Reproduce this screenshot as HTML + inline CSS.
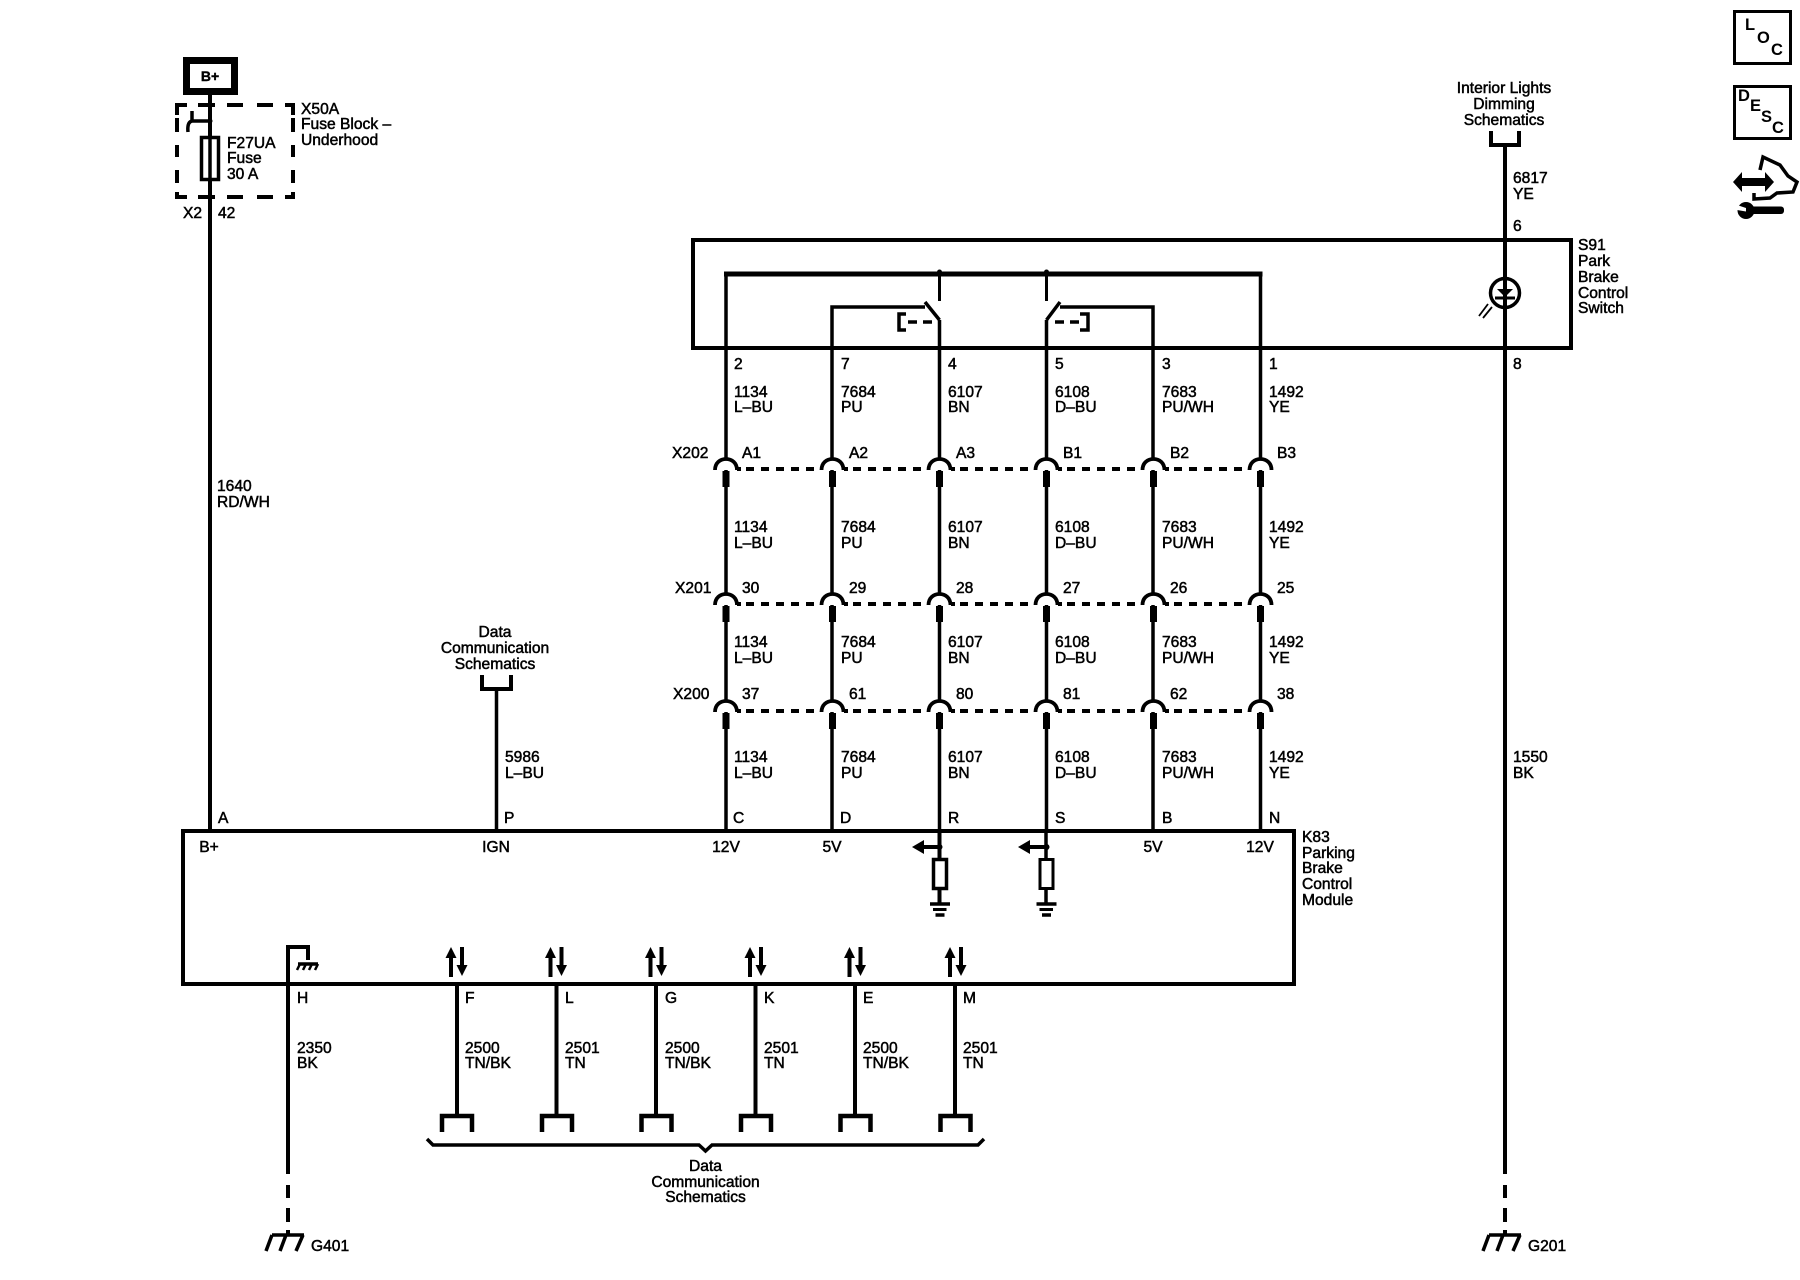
<!DOCTYPE html>
<html><head><meta charset="utf-8"><style>
html,body{margin:0;padding:0;background:#fff}
svg{display:block}
text{font-family:"Liberation Sans",sans-serif;font-size:15.6px;fill:#000;stroke:#000;stroke-width:.5}
.m{text-anchor:middle}
.w{fill:none;stroke:#000;stroke-width:4}
.b{font-weight:bold;stroke-width:0}
</style></head><body>
<svg width="1800" height="1280" viewBox="0 0 1800 1280" xmlns="http://www.w3.org/2000/svg">
<defs>
<g id="c"><rect x="-9" y="-10" width="18" height="10" fill="#fff"/><path d="M-11 0C-11-7-6-11 0-11S11-7 11 0" fill="none" stroke="#000" stroke-width="3.800"/><rect x="-3.500" y="1" width="7" height="16" fill="#000"/></g>
<g id="ud"><path d="M-5.500 30V8M5.500 0V20" fill="none" stroke="#000" stroke-width="4"/><path d="M-5.500 0L-11 11H0ZM5.500 29L0 18H11Z" fill="#000"/></g>
<g id="br"><path d="M-15 16V0H15V16" fill="none" stroke="#000" stroke-width="4.500"/></g>
<g id="gnd"><path d="M-10 0H10" stroke="#000" stroke-width="3.500"/><path d="M-7 5.500H6.500" stroke="#000" stroke-width="3"/><path d="M-4.500 11H4.500" stroke="#000" stroke-width="3.500"/></g>
<g id="eg"><path d="M-16 0H16M-16 0L-22 16M-2 0L-8 16M15 0L8 16" fill="none" stroke="#000" stroke-width="3.500"/></g>
</defs>

<!-- B+ and fuse -->
<rect x="186.500" y="60.500" width="48" height="31" fill="none" stroke="#000" stroke-width="7"/>
<text x="210" y="81" class="m b" style="font-size:14px;stroke-width:.4">B+</text>
<path class="w" d="M210 95V831"/>
<path class="w" d="M177 115V105H187M198 105H215M227 105H243M257 105H273M285 105H293V115M177 118V132M293 118V132M177 145V157M293 145V157M177 170V183M293 170V183M177 192V197H187M198 197H215M227 197H243M257 197H273M285 197H293V192"/>
<path d="M210 121H192V111M192 121Q187 122 188 132" fill="none" stroke="#000" stroke-width="3.500"/>
<circle cx="210" cy="121" r="2.500"/>
<rect x="201.500" y="137.500" width="17" height="42" fill="#fff" stroke="#000" stroke-width="3.500"/>
<path d="M210 137V180" stroke="#000" stroke-width="3.500"/>
<text x="301" y="114">X50A</text><text x="301" y="129">Fuse Block –</text><text x="301" y="145">Underhood</text>
<text x="227" y="148">F27UA</text><text x="227" y="163">Fuse</text><text x="227" y="179">30 A</text>
<text x="183" y="218">X2</text><text x="218" y="218">42</text>
<text x="217" y="491">1640</text><text x="217" y="507">RD/WH</text>

<!-- Top right icons -->
<rect x="1734.500" y="11.500" width="56" height="52" fill="none" stroke="#000" stroke-width="3"/>
<text x="1745" y="30" class="b" style="font-size:16.500px">L</text><text x="1757" y="43" class="b" style="font-size:16.500px">O</text><text x="1771" y="55" class="b" style="font-size:16.500px">C</text>
<rect x="1734.500" y="86.500" width="56" height="52" fill="none" stroke="#000" stroke-width="3"/>
<text x="1738" y="101" class="b" style="font-size:16.500px">D</text><text x="1750" y="111" class="b" style="font-size:16.500px">E</text><text x="1761" y="122" class="b" style="font-size:16.500px">S</text><text x="1772" y="133" class="b" style="font-size:16.500px">C</text>
<path d="M1760 170L1763 157L1780 165L1788 176L1797 182L1793 192L1777 193L1770 198L1754 199V193" fill="none" stroke="#000" stroke-width="3.500"/>
<path d="M1733 182L1742 172V178H1765V172L1774 182L1765 192V186H1742V192Z" fill="#000"/>
<rect x="1750" y="206.500" width="34" height="7.500" rx="3" fill="#000"/>
<circle cx="1746" cy="210.500" r="8.500" fill="#000"/>
<path d="M1737 205L1746 208L1746 211.500L1737 210Z" fill="#fff"/>

<!-- Interior lights -->
<text x="1504" y="93" class="m">Interior Lights</text><text x="1504" y="109" class="m">Dimming</text><text x="1504" y="125" class="m">Schematics</text>
<path d="M1491 131V145H1519V131" fill="none" stroke="#000" stroke-width="4"/>
<path class="w" d="M1505 145V1174M1505 1185V1198M1505 1208V1222M1505 1230V1235"/>
<text x="1513" y="183">6817</text><text x="1513" y="199">YE</text><text x="1513" y="231">6</text>
<text x="1578" y="250">S91</text><text x="1578" y="266">Park</text><text x="1578" y="282">Brake</text><text x="1578" y="298">Control</text><text x="1578" y="313">Switch</text>
<text x="1513" y="369">8</text>
<text x="1513" y="762">1550</text><text x="1513" y="778">BK</text>
<use href="#eg" x="1505" y="1235"/>
<text x="1528" y="1251">G201</text>

<!-- S91 box -->
<rect x="693" y="240" width="878" height="108" fill="none" stroke="#000" stroke-width="4"/>
<circle cx="1505" cy="293" r="14.500" fill="none" stroke="#000" stroke-width="3.500"/>
<path d="M1497 289H1513L1505 297Z" fill="#000"/><path d="M1495 298H1515" stroke="#000" stroke-width="3"/>
<path d="M1488 304L1479 316M1492 307L1483 318" stroke="#000" stroke-width="1.800"/>
<path d="M726 831V274H1260.500V831" fill="none" stroke="#000" stroke-width="3.500"/>
<path d="M724 274H1262.500" stroke="#000" stroke-width="5"/>
<path d="M832 831V307H925M1153 831V307H1060" fill="none" stroke="#000" stroke-width="3.500"/>
<path d="M925 302L939.500 320M1060 302L1046.500 320" stroke="#000" stroke-width="3.500" fill="none"/>
<path d="M939.500 831V320M1046.500 831V320" stroke="#000" stroke-width="3.500"/>
<path d="M939.500 270V301M1046.500 270V301" stroke="#000" stroke-width="3"/>
<circle cx="939.500" cy="272" r="2.500"/><circle cx="1046.500" cy="272" r="2.500"/>
<path d="M906 314H899V330H906M1080 314H1088V330H1080" fill="none" stroke="#000" stroke-width="3.500"/>
<path d="M908 322H935M1055 322H1081" stroke="#000" stroke-width="3.500" stroke-dasharray="9 6" fill="none"/>

<!-- Wire labels -->
<g>
<text x="734" y="369">2</text><text x="841" y="369">7</text><text x="948" y="369">4</text><text x="1055" y="369">5</text><text x="1162" y="369">3</text><text x="1269" y="369">1</text>
<text x="734" y="397">1134</text><text x="734" y="412">L–BU</text><text x="841" y="397">7684</text><text x="841" y="412">PU</text><text x="948" y="397">6107</text><text x="948" y="412">BN</text><text x="1055" y="397">6108</text><text x="1055" y="412">D–BU</text><text x="1162" y="397">7683</text><text x="1162" y="412">PU/WH</text><text x="1269" y="397">1492</text><text x="1269" y="412">YE</text>
<text x="734" y="532">1134</text><text x="734" y="548">L–BU</text><text x="841" y="532">7684</text><text x="841" y="548">PU</text><text x="948" y="532">6107</text><text x="948" y="548">BN</text><text x="1055" y="532">6108</text><text x="1055" y="548">D–BU</text><text x="1162" y="532">7683</text><text x="1162" y="548">PU/WH</text><text x="1269" y="532">1492</text><text x="1269" y="548">YE</text>
<text x="734" y="647">1134</text><text x="734" y="663">L–BU</text><text x="841" y="647">7684</text><text x="841" y="663">PU</text><text x="948" y="647">6107</text><text x="948" y="663">BN</text><text x="1055" y="647">6108</text><text x="1055" y="663">D–BU</text><text x="1162" y="647">7683</text><text x="1162" y="663">PU/WH</text><text x="1269" y="647">1492</text><text x="1269" y="663">YE</text>
<text x="734" y="762">1134</text><text x="734" y="778">L–BU</text><text x="841" y="762">7684</text><text x="841" y="778">PU</text><text x="948" y="762">6107</text><text x="948" y="778">BN</text><text x="1055" y="762">6108</text><text x="1055" y="778">D–BU</text><text x="1162" y="762">7683</text><text x="1162" y="778">PU/WH</text><text x="1269" y="762">1492</text><text x="1269" y="778">YE</text>
</g>

<!-- Connector rows -->
<g fill="none" stroke="#000" stroke-width="4">
<g stroke-dasharray="8 7">
<path d="M746 469H814M853 469H921M960 469H1028M1067 469H1135M1174 469H1242"/>
<path d="M746 604H814M853 604H921M960 604H1028M1067 604H1135M1174 604H1242"/>
<path d="M746 711H814M853 711H921M960 711H1028M1067 711H1135M1174 711H1242"/>
</g>
<path d="M737 469H741M844 469H848M951 469H955M1058 469H1062M1165 469H1169M737 604H741M844 604H848M951 604H955M1058 604H1062M1165 604H1169M737 711H741M844 711H848M951 711H955M1058 711H1062M1165 711H1169"/>
</g>
<use href="#c" x="726" y="470"/><use href="#c" x="832.500" y="470"/><use href="#c" x="939.500" y="470"/><use href="#c" x="1046.500" y="470"/><use href="#c" x="1153.500" y="470"/><use href="#c" x="1260.500" y="470"/>
<use href="#c" x="726" y="605"/><use href="#c" x="832.500" y="605"/><use href="#c" x="939.500" y="605"/><use href="#c" x="1046.500" y="605"/><use href="#c" x="1153.500" y="605"/><use href="#c" x="1260.500" y="605"/>
<use href="#c" x="726" y="712"/><use href="#c" x="832.500" y="712"/><use href="#c" x="939.500" y="712"/><use href="#c" x="1046.500" y="712"/><use href="#c" x="1153.500" y="712"/><use href="#c" x="1260.500" y="712"/>

<text x="672" y="458">X202</text><text x="742" y="458">A1</text><text x="849" y="458">A2</text><text x="956" y="458">A3</text><text x="1063" y="458">B1</text><text x="1170" y="458">B2</text><text x="1277" y="458">B3</text>
<text x="675" y="593">X201</text><text x="742" y="593">30</text><text x="849" y="593">29</text><text x="956" y="593">28</text><text x="1063" y="593">27</text><text x="1170" y="593">26</text><text x="1277" y="593">25</text>
<text x="673" y="699">X200</text><text x="742" y="699">37</text><text x="849" y="699">61</text><text x="956" y="699">80</text><text x="1063" y="699">81</text><text x="1170" y="699">62</text><text x="1277" y="699">38</text>

<!-- Data comm upper -->
<text x="495" y="637" class="m">Data</text><text x="495" y="653" class="m">Communication</text><text x="495" y="669" class="m">Schematics</text>
<path d="M482 675V689H511V675" fill="none" stroke="#000" stroke-width="4"/>
<path d="M496.500 689V831" stroke="#000" stroke-width="3.500"/>
<text x="505" y="762">5986</text><text x="505" y="778">L–BU</text>

<!-- Module -->
<rect x="183" y="831" width="1111" height="153" fill="none" stroke="#000" stroke-width="4"/>
<text x="218" y="823">A</text><text x="504" y="823">P</text><text x="733" y="823">C</text><text x="840" y="823">D</text><text x="948" y="823">R</text><text x="1055" y="823">S</text><text x="1162" y="823">B</text><text x="1269" y="823">N</text>
<text x="209" y="852" class="m">B+</text><text x="496" y="852" class="m">IGN</text><text x="726" y="852" class="m">12V</text><text x="832" y="852" class="m">5V</text><text x="1153" y="852" class="m">5V</text><text x="1260" y="852" class="m">12V</text>
<text x="1302" y="842">K83</text><text x="1302" y="858">Parking</text><text x="1302" y="873">Brake</text><text x="1302" y="889">Control</text><text x="1302" y="905">Module</text>

<!-- Internal R/S -->
<path d="M939.500 831V903" stroke="#000" stroke-width="4"/>
<path d="M939 847H920" stroke="#000" stroke-width="4"/><path d="M912 847L924 840V854Z" fill="#000"/><circle cx="939.500" cy="847" r="3"/>
<rect x="933.500" y="859.500" width="13" height="29" fill="#fff" stroke="#000" stroke-width="3.500"/>
<use href="#gnd" x="940" y="904"/>
<path d="M1046 831V903" stroke="#000" stroke-width="3.500"/>
<path d="M1046 847H1027" stroke="#000" stroke-width="4"/><path d="M1018 847L1030 840V854Z" fill="#000"/><circle cx="1046.500" cy="847" r="3"/>
<rect x="1040" y="859.500" width="13" height="29" fill="#fff" stroke="#000" stroke-width="3"/>
<use href="#gnd" x="1046.500" y="904"/>

<!-- Ground H -->
<path class="w" d="M288 1174V947H308V960M288 1185V1198M288 1208V1222M288 1230V1235"/>
<path d="M298 964H318" stroke="#000" stroke-width="3.500"/>
<path d="M300 964L297 970M306 964L303 970M312 964L309 970M318 964L315 970" stroke="#000" stroke-width="2.500"/>
<text x="297" y="1003">H</text><text x="297" y="1053">2350</text><text x="297" y="1068">BK</text>
<use href="#eg" x="288" y="1235"/>
<text x="311" y="1251">G401</text>

<!-- Data wires -->
<use href="#ud" x="456.500" y="947"/><use href="#ud" x="556" y="947"/><use href="#ud" x="656" y="947"/><use href="#ud" x="755.500" y="947"/><use href="#ud" x="855" y="947"/><use href="#ud" x="955.500" y="947"/>
<path class="w" d="M457 984V1115M556.500 984V1115M656 984V1115M755.500 984V1115M855 984V1115M955 984V1115"/>
<use href="#br" x="457" y="1116"/><use href="#br" x="557" y="1116"/><use href="#br" x="656.500" y="1116"/><use href="#br" x="756" y="1116"/><use href="#br" x="855.500" y="1116"/><use href="#br" x="955.500" y="1116"/>
<text x="465" y="1003">F</text><text x="565" y="1003">L</text><text x="665" y="1003">G</text><text x="764" y="1003">K</text><text x="863" y="1003">E</text><text x="963" y="1003">M</text>
<text x="465" y="1053">2500</text><text x="465" y="1068">TN/BK</text>
<text x="565" y="1053">2501</text><text x="565" y="1068">TN</text>
<text x="665" y="1053">2500</text><text x="665" y="1068">TN/BK</text>
<text x="764" y="1053">2501</text><text x="764" y="1068">TN</text>
<text x="863" y="1053">2500</text><text x="863" y="1068">TN/BK</text>
<text x="963" y="1053">2501</text><text x="963" y="1068">TN</text>

<path d="M427 1139L433 1145H699L705.500 1151L712 1145H978L984 1139" fill="none" stroke="#000" stroke-width="3.500"/>
<text x="705.500" y="1171" class="m">Data</text><text x="705.500" y="1187" class="m">Communication</text><text x="705.500" y="1202" class="m">Schematics</text>
</svg>
</body></html>
